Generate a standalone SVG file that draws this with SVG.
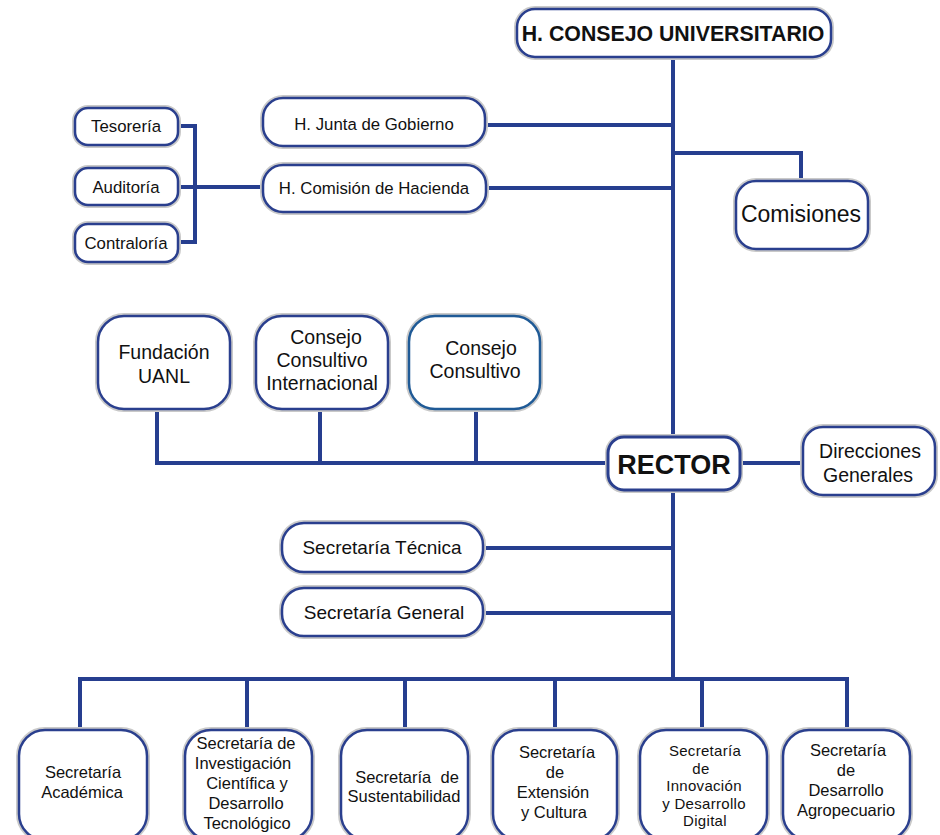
<svg xmlns="http://www.w3.org/2000/svg" width="940" height="835" viewBox="0 0 940 835">
<style>
.b{fill:#fff;stroke:#2a3f8e;stroke-width:2.5}
.h{fill:none;stroke:#c9c9c9;stroke-width:6}
.c{fill:none;stroke:#263e8f;stroke-width:4;stroke-linecap:butt}
text{font-family:"Liberation Sans",Arial,sans-serif;fill:#111;text-anchor:middle}
.t15{font-size:16.5px}
.t16{font-size:16.8px}
.t17{font-size:19px}
.t18{font-size:19.5px}
.o{font-size:15px;letter-spacing:0.3px}
</style>
<rect width="940" height="835" fill="#fff"/>
<g id="connectors">
<path class="c" d="M673 57V679"/>
<path class="c" d="M485 125H673"/>
<path class="c" d="M486 188H673"/>
<path class="c" d="M673 153H801V181"/>
<path class="c" d="M178 126H195V242H178M178 187H263"/>
<path class="c" d="M157 409V463H609M320 409V463M476 409V463"/>
<path class="c" d="M740 463H803"/>
<path class="c" d="M483 548H673M483 613H673"/>
<path class="c" d="M80 730V679H847V730M247 679V730M405 679V730M555 679V730M702 679V730"/>
</g>
<g id="consejo-universitario">
<rect class="h" x="517" y="9" width="314" height="48" rx="18"/>
<rect class="b" x="517" y="9" width="314" height="48" rx="18"/>
<text x="673" y="41" style="font-size:21.3px;font-weight:bold">H. CONSEJO UNIVERSITARIO</text>
</g>
<g id="junta-gobierno">
<rect class="h" x="263" y="98" width="222" height="48" rx="20"/>
<rect class="b" x="263" y="98" width="222" height="48" rx="20"/>
<text class="t16" x="374" y="130">H. Junta de Gobierno</text>
</g>
<g id="comision-hacienda">
<rect class="h" x="263" y="165" width="223" height="47" rx="20"/>
<rect class="b" x="263" y="165" width="223" height="47" rx="20"/>
<text class="t16" x="374" y="194">H. Comisión de Hacienda</text>
</g>
<g id="tesoreria">
<rect class="h" x="75" y="108" width="103" height="37" rx="13"/>
<rect class="b" x="75" y="108" width="103" height="37" rx="13"/>
<text class="t16" x="126" y="132">Tesorería</text>
</g>
<g id="auditoria">
<rect class="h" x="75" y="168" width="103" height="37" rx="13"/>
<rect class="b" x="75" y="168" width="103" height="37" rx="13"/>
<text class="t16" x="126" y="193">Auditoría</text>
</g>
<g id="contraloria">
<rect class="h" x="75" y="224" width="103" height="38" rx="13"/>
<rect class="b" x="75" y="224" width="103" height="38" rx="13"/>
<text class="t16" x="126" y="249">Contraloría</text>
</g>
<g id="comisiones">
<rect class="h" x="736" y="181" width="132" height="68" rx="20"/>
<rect class="b" x="736" y="181" width="132" height="68" rx="20"/>
<text x="801" y="222" style="font-size:23px">Comisiones</text>
</g>
<g id="fundacion-uanl">
<rect class="h" x="98" y="316" width="132" height="93" rx="26"/>
<rect class="b" x="98" y="316" width="132" height="93" rx="26"/>
<text class="t18" x="164" y="359">Fundación</text>
<text class="t18" x="164" y="383">UANL</text>
</g>
<g id="consejo-consultivo-internacional">
<rect class="h" x="256" y="316" width="132" height="93" rx="26"/>
<rect class="b" x="256" y="316" width="132" height="93" rx="26"/>
<text class="t18" x="326" y="344">Consejo</text>
<text class="t18" x="322" y="367">Consultivo</text>
<text class="t18" x="322" y="390">Internacional</text>
</g>
<g id="consejo-consultivo">
<rect class="h" x="409" y="316" width="131" height="93" rx="26"/>
<rect class="b" x="409" y="316" width="131" height="93" rx="26" style="stroke:#1f5a96"/>
<text class="t18" x="481" y="355">Consejo</text>
<text class="t18" x="475" y="378">Consultivo</text>
</g>
<g id="rector">
<rect class="h" x="608" y="437" width="132" height="53" rx="16"/>
<rect class="b" x="608" y="437" width="132" height="53" rx="16" style="stroke-width:3"/>
<text x="674" y="474" style="font-size:27px;font-weight:bold">RECTOR</text>
</g>
<g id="direcciones-generales">
<rect class="h" x="803" y="427" width="132" height="68" rx="20"/>
<rect class="b" x="803" y="427" width="132" height="68" rx="20"/>
<text class="t18" x="870" y="458">Direcciones</text>
<text class="t18" x="868" y="482">Generales</text>
</g>
<g id="secretaria-tecnica">
<rect class="h" x="282" y="523" width="201" height="49" rx="22"/>
<rect class="b" x="282" y="523" width="201" height="49" rx="22"/>
<text class="t17" x="382" y="554">Secretaría Técnica</text>
</g>
<g id="secretaria-general">
<rect class="h" x="282" y="588" width="201" height="48" rx="22"/>
<rect class="b" x="282" y="588" width="201" height="48" rx="22"/>
<text class="t17" x="384" y="619">Secretaría General</text>
</g>
<g id="sec-academica">
<rect class="h" x="19" y="730" width="128" height="110" rx="26"/>
<rect class="b" x="19" y="730" width="128" height="110" rx="26"/>
<text class="t15" x="83" y="778">Secretaría</text>
<text class="t15" x="82" y="798">Académica</text>
</g>
<g id="sec-investigacion">
<rect class="h" x="185" y="730" width="127" height="110" rx="26"/>
<rect class="b" x="185" y="730" width="127" height="110" rx="26"/>
<text class="t15" x="246" y="749">Secretaría de</text>
<text class="t15" x="243" y="769">Investigación</text>
<text class="t15" x="247" y="789">Científica y</text>
<text class="t15" x="246" y="809">Desarrollo</text>
<text class="t15" x="247" y="829">Tecnológico</text>
</g>
<g id="sec-sustentabilidad">
<rect class="h" x="341" y="730" width="127" height="110" rx="26"/>
<rect class="b" x="341" y="730" width="127" height="110" rx="26"/>
<text class="t15" x="407" y="783" xml:space="preserve">Secretaría  de</text>
<text class="t15" x="404" y="802">Sustentabilidad</text>
</g>
<g id="sec-extension">
<rect class="h" x="493" y="730" width="124" height="110" rx="26"/>
<rect class="b" x="493" y="730" width="124" height="110" rx="26"/>
<text class="t15" x="557" y="758">Secretaría</text>
<text class="t15" x="555" y="778">de</text>
<text class="t15" x="553" y="798">Extensión</text>
<text class="t15" x="554" y="818">y Cultura</text>
</g>
<g id="sec-innovacion">
<rect class="h" x="640" y="730" width="127" height="110" rx="26"/>
<rect class="b" x="640" y="730" width="127" height="110" rx="26"/>
<text class="o" x="705" y="756">Secretaría</text>
<text class="o" x="701" y="773.5">de</text>
<text class="o" x="704" y="791">Innovación</text>
<text class="o" x="704" y="808.5">y Desarrollo</text>
<text class="o" x="705" y="826">Digital</text>
</g>
<g id="sec-agropecuario">
<rect class="h" x="783" y="730" width="127" height="110" rx="26"/>
<rect class="b" x="783" y="730" width="127" height="110" rx="26"/>
<text class="t15" x="848" y="756">Secretaría</text>
<text class="t15" x="846" y="776">de</text>
<text class="t15" x="846" y="796">Desarrollo</text>
<text class="t15" x="846" y="816">Agropecuario</text>
</g>
</svg>
